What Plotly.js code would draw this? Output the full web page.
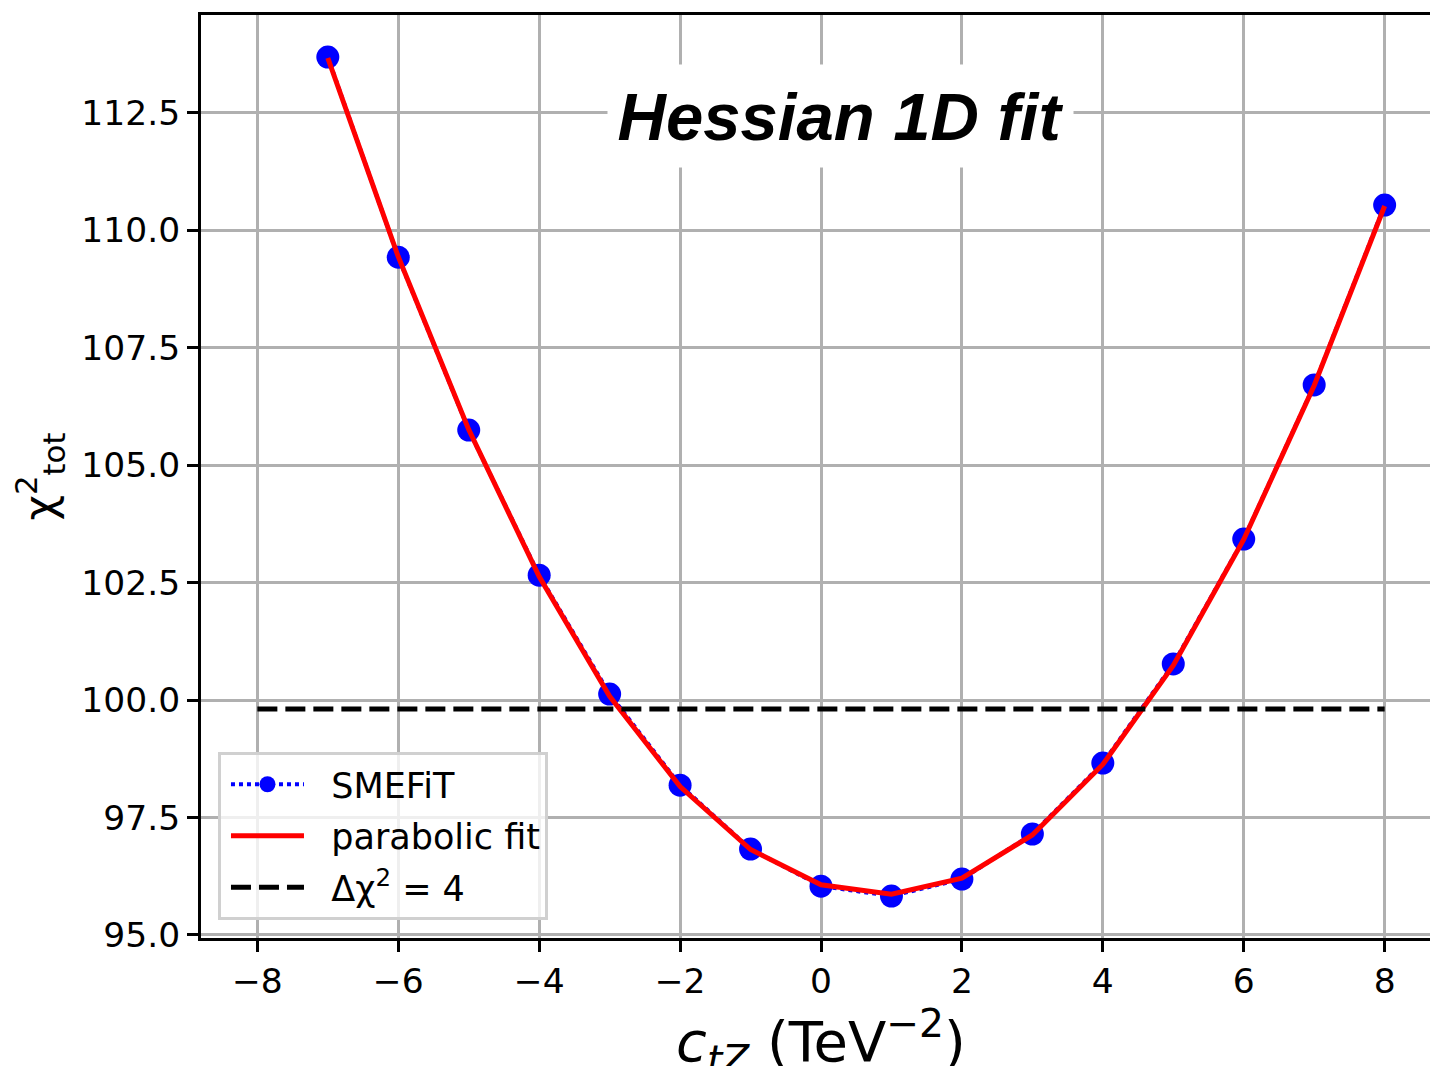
<!DOCTYPE html>
<html>
<head>
<meta charset="utf-8">
<script src="https://cdn.plot.ly/plotly-3.0.1.min.js"></script>
<style>
  html, body { margin: 0; padding: 0; overflow: hidden; background: #fff; }
  #chart { width: 1450px; height: 1090px; }
</style>
</head>
<body>
<div id="chart"></div>
<script>
// ---- data ----
const ctz = [-7, -6, -5, -4, -3, -2, -1, 0, 1, 2, 3, 4, 5, 6, 7, 8];
const chi2Smefit = [113.69, 109.43, 105.75, 102.66, 100.13, 98.19, 96.83, 96.04, 95.83, 96.19, 97.15, 98.66, 100.77, 103.43, 106.71, 110.54];
const chi2Fit = [113.67, 109.44, 105.76, 102.63, 100.08, 98.16, 96.82, 96.07, 95.87, 96.21, 97.13, 98.63, 100.74, 103.42, 106.70, 110.52];
const thresholdX = [-8, 8];
const thresholdY = [99.81, 99.81];
const xTicks = [-8, -6, -4, -2, 0, 2, 4, 6, 8];
const seriesNames = ['SMEFiT', 'parabolic fit', 'Δχ<sup>2</sup> = 4'];
const annotationText = '<b><i>Hessian 1D fit</i></b>';

const font = 'DejaVu Sans, Verdana, sans-serif';
const pad = '&nbsp;&nbsp;';

const traces = [
  {
    x: ctz, y: chi2Smefit, name: pad + seriesNames[0], legendgroup: 'g1',
    type: 'scatter', mode: 'lines+markers',
    line: { color: '#0000ff', width: 4, dash: 'dot' },
    marker: { color: '#0000ff', size: 23 }
  },
  {
    x: ctz, y: chi2Fit, name: pad + seriesNames[1], legendgroup: 'g2',
    type: 'scatter', mode: 'lines',
    line: { color: '#ff0000', width: 5 }
  },
  {
    x: thresholdX, y: thresholdY, name: pad + seriesNames[2], legendgroup: 'g3',
    type: 'scatter', mode: 'lines',
    line: { color: '#000000', width: 5, dash: '20px,8px' }
  }
];

const axisCommon = {
  showline: true, mirror: true, linecolor: '#000', linewidth: 3,
  ticks: 'outside', ticklen: 11, tickwidth: 3, tickcolor: '#000',
  showgrid: true, gridcolor: '#b0b0b0', gridwidth: 3,
  zeroline: false,
  tickfont: { family: font, size: 34.5, color: '#000' }
};

const layout = {
  width: 1450, height: 1090,
  margin: { l: 201, r: 9, t: 15, b: 152 },
  paper_bgcolor: '#fff', plot_bgcolor: '#fff',
  showlegend: true,
  xaxis: Object.assign({}, axisCommon, {
    range: [-8.8, 8.8],
    tickmode: 'array', tickvals: xTicks,
    title: { text: '<i>c</i><sub><i>tZ</i></sub> (TeV<sup>−2</sup>)', font: { family: font, size: 56, color: '#000' }, standoff: 14 }
  }),
  yaxis: Object.assign({}, axisCommon, {
    range: [94.936, 114.586],
    tick0: 95, dtick: 2.5, tickformat: '.1f',
    title: { text: 'χ<sup>2</sup><sub>tot</sub>', font: { family: font, size: 44, color: '#000' }, standoff: 12 }
  }),
  legend: {
    x: 0.0137, y: 0.0195, xanchor: 'left', yanchor: 'bottom',
    bgcolor: 'rgba(255,255,255,0.8)', bordercolor: '#d0d0d0', borderwidth: 3,
    font: { family: font, size: 35, color: '#000' },
    itemwidth: 73, indentation: 5, tracegroupgap: 3
  },
  annotations: [{
    xref: 'paper', yref: 'paper', x: 0.5156, y: 0.8906,
    xanchor: 'center', yanchor: 'middle',
    text: annotationText, showarrow: false,
    font: { family: 'Liberation Sans, Arial, sans-serif', size: 67, color: '#000' },
    bgcolor: '#ffffff', width: 465, height: 102, borderpad: 0
  }]
};

Plotly.newPlot('chart', traces, layout, { displayModeBar: false, staticPlot: true });
</script>
</body>
</html>
